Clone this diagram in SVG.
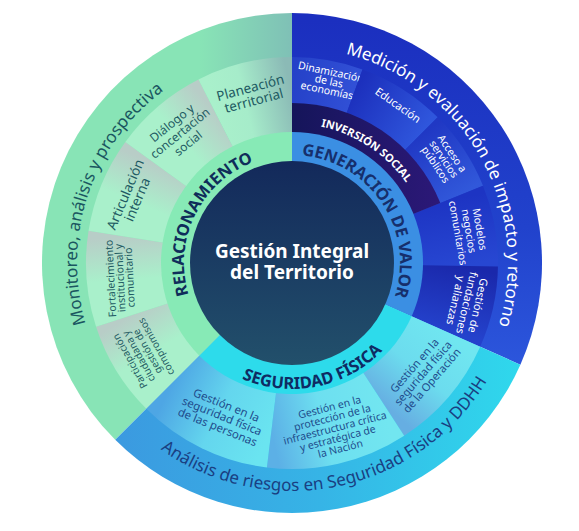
<svg xmlns="http://www.w3.org/2000/svg" width="579" height="531" viewBox="0 0 579 531">
<style>
text { font-family: "Noto Sans", "Open Sans", sans-serif; }
.o { font-size: 17px; }
.m { font-size: 16.5px; font-weight: 700; }
.it { text-anchor: middle; }
.gt { fill: #1e5a62; }
.wt { fill: #ffffff; }
.ct { fill: #1f4c8c; }
</style>
<defs>
  <linearGradient id="gOutGreen" gradientUnits="userSpaceOnUse" x1="200" y1="0" x2="292" y2="0">
    <stop offset="0" stop-color="#88e4b6"/><stop offset="1" stop-color="#7fc0b6"/>
  </linearGradient>
  <linearGradient id="gOutBlue" gradientUnits="userSpaceOnUse" x1="0" y1="20" x2="0" y2="365">
    <stop offset="0" stop-color="#1b2fbf"/><stop offset="0.6" stop-color="#2142cc"/><stop offset="1" stop-color="#2c56dc"/>
  </linearGradient>
  <linearGradient id="gOutCyan" gradientUnits="userSpaceOnUse" x1="120" y1="0" x2="520" y2="0">
    <stop offset="0" stop-color="#3b9ae0"/><stop offset="0.5" stop-color="#36b4e6"/><stop offset="1" stop-color="#2fd8ec"/>
  </linearGradient>
  <linearGradient id="gP" gradientUnits="userSpaceOnUse" x1="171.8" y1="383.2" x2="130.3" y2="315.5">
    <stop offset="0" stop-color="#a9f0cb"/><stop offset="0.45" stop-color="#a9f0cb"/><stop offset="1" stop-color="#b8cdc7"/>
  </linearGradient>
  <linearGradient id="gF" gradientUnits="userSpaceOnUse" x1="130.3" y1="315.5" x2="124.1" y2="236.4">
    <stop offset="0" stop-color="#a9f0cb"/><stop offset="0.45" stop-color="#a9f0cb"/><stop offset="1" stop-color="#b8cdc7"/>
  </linearGradient>
  <linearGradient id="gA" gradientUnits="userSpaceOnUse" x1="124.1" y1="236.4" x2="154.5" y2="163.1">
    <stop offset="0" stop-color="#a9f0cb"/><stop offset="0.45" stop-color="#a9f0cb"/><stop offset="1" stop-color="#b8cdc7"/>
  </linearGradient>
  <linearGradient id="gD" gradientUnits="userSpaceOnUse" x1="154.5" y1="163.1" x2="214.8" y2="111.5">
    <stop offset="0" stop-color="#a9f0cb"/><stop offset="0.45" stop-color="#a9f0cb"/><stop offset="1" stop-color="#b8cdc7"/>
  </linearGradient>
  <linearGradient id="gPl" gradientUnits="userSpaceOnUse" x1="214.8" y1="111.5" x2="292" y2="93">
    <stop offset="0" stop-color="#a9f0cb"/><stop offset="0.4" stop-color="#a6ecca"/><stop offset="1" stop-color="#8bbab6"/>
  </linearGradient>
  <linearGradient id="gDin" gradientUnits="userSpaceOnUse" x1="292" y1="80" x2="354.6" y2="91">
    <stop offset="0" stop-color="#2541c8"/><stop offset="1" stop-color="#3150d6"/>
  </linearGradient>
  <linearGradient id="gEdu" gradientUnits="userSpaceOnUse" x1="354.6" y1="91" x2="421.4" y2="133.6">
    <stop offset="0" stop-color="#1c30bd"/><stop offset="1" stop-color="#2f56dc"/>
  </linearGradient>
  <linearGradient id="gAcc" gradientUnits="userSpaceOnUse" x1="421.4" y1="133.6" x2="461.7" y2="194.5">
    <stop offset="0" stop-color="#2038c4"/><stop offset="1" stop-color="#3158da"/>
  </linearGradient>
  <linearGradient id="gMod" gradientUnits="userSpaceOnUse" x1="449.6" y1="199.3" x2="462" y2="266">
    <stop offset="0" stop-color="#1d34c3"/><stop offset="1" stop-color="#2747d2"/>
  </linearGradient>
  <linearGradient id="gFun" gradientUnits="userSpaceOnUse" x1="462" y1="266" x2="447.3" y2="332.2">
    <stop offset="0" stop-color="#1a28ab"/><stop offset="1" stop-color="#2442cc"/>
  </linearGradient>
  <linearGradient id="gOp" gradientUnits="userSpaceOnUse" x1="447.3" y1="332.2" x2="384.6" y2="405.6">
    <stop offset="0" stop-color="#70e6f0"/><stop offset="0.5" stop-color="#6cdcee"/><stop offset="1" stop-color="#66aee2"/>
  </linearGradient>
  <linearGradient id="gPr" gradientUnits="userSpaceOnUse" x1="384.6" y1="405.6" x2="271.3" y2="431.7">
    <stop offset="0" stop-color="#72e6f0"/><stop offset="0.55" stop-color="#6ddff0"/><stop offset="1" stop-color="#5cb0e6"/>
  </linearGradient>
  <linearGradient id="gPe" gradientUnits="userSpaceOnUse" x1="271.3" y1="431.7" x2="171.8" y2="383.2">
    <stop offset="0" stop-color="#6ae4f0"/><stop offset="0.5" stop-color="#64d6ee"/><stop offset="1" stop-color="#4ea6e4"/>
  </linearGradient>
  <linearGradient id="gInv" gradientUnits="userSpaceOnUse" x1="292" y1="0" x2="440" y2="0">
    <stop offset="0" stop-color="#15155a"/><stop offset="1" stop-color="#2c1878"/>
  </linearGradient>
  <linearGradient id="gCore" x1="0" y1="0" x2="0" y2="1">
    <stop offset="0" stop-color="#13295b"/><stop offset="1" stop-color="#22506b"/>
  </linearGradient>
  <path id="pMon" d="M108.68,375.34 A215,215 0 0 1 213.20,62.96"/>
  <path id="pMed" d="M331.73,50.69 A216,216 0 0 1 494.19,339.0"/>
  <path id="pAna" d="M151.0,442.18 A228,228 0 0 0 492.94,370.74"/>
  <path id="pRel" d="M193.26,306.76 A108,108 0 0 1 266.06,158.16"/>
  <path id="pGen" d="M304.23,155.69 A108,108 0 0 1 395.55,293.67"/>
  <path id="pSeg" d="M213.13,361.26 A126,126 0 0 0 402.47,323.60"/>
  <path id="pInv" d="M252.0,128.84 A141,141 0 0 1 431.07,246.91"/>
</defs>

<!-- outer ring -->
<g id="monitoreo">
  <path d="M292,263 L115.22,439.78 A250,250 0 0 1 292,13 Z" fill="url(#gOutGreen)"/>
  <text class="o" fill="#1a5660"><textPath href="#pMon" startOffset="50%" text-anchor="middle">Monitoreo, análisis y prospectiva</textPath></text>
</g>
<g id="medicion">
  <path d="M292,263 L292,13 A250,250 0 0 1 520.39,364.69 Z" fill="url(#gOutBlue)"/>
  <text class="o" fill="#ffffff"><textPath href="#pMed" startOffset="50%" text-anchor="middle">Medición y evaluación de impacto y retorno</textPath></text>
</g>
<g id="analisis">
  <path d="M292,263 L520.39,364.69 A250,250 0 0 1 115.22,439.78 Z" fill="url(#gOutCyan)"/>
  <text class="o" fill="#1a3f82"><textPath href="#pAna" startOffset="50%" text-anchor="middle">Análisis de riesgos en Seguridad Física y DDHH</textPath></text>
</g>

<!-- items: green -->
<g id="participacion">
  <path d="M292,263 L146.34,408.66 A206,206 0 0 1 96.08,326.66 Z" fill="url(#gP)"/>
  <text class="it gt" font-size="10" transform="translate(143,354) rotate(-119)">
    <tspan x="0" y="-11.4">Participación</tspan><tspan x="0" y="-1.4">ciudadana y</tspan><tspan x="0" y="8.6">gestión de</tspan><tspan x="0" y="18.6">compromisos</tspan>
  </text>
</g>
<g id="fortalecimiento">
  <path d="M292,263 L96.08,326.66 A206,206 0 0 1 88.54,230.78 Z" fill="url(#gF)"/>
  <text class="it gt" font-size="10.5" transform="translate(120,278) rotate(-93)">
    <tspan x="0" y="-5.7">Fortalecimiento</tspan><tspan x="0" y="3.8">institucional y</tspan><tspan x="0" y="13.3">comunitario</tspan>
  </text>
</g>
<g id="articulacion">
  <path d="M292,263 L88.54,230.78 A206,206 0 0 1 125.34,141.92 Z" fill="url(#gA)"/>
  <text class="it gt" font-size="13.5" transform="translate(131,197) rotate(-67)">
    <tspan x="0" y="-1.6">Articulación</tspan><tspan x="0" y="11.4">interna</tspan>
  </text>
</g>
<g id="dialogo">
  <path d="M292,263 L125.34,141.92 A206,206 0 0 1 198.48,79.45 Z" fill="url(#gD)"/>
  <text class="it gt" font-size="12" transform="translate(180,133) rotate(-39)">
    <tspan x="0" y="-8.7">Diálogo y</tspan><tspan x="0" y="4.3">concertación</tspan><tspan x="0" y="17.3">social</tspan>
  </text>
</g>
<g id="planeacion">
  <path d="M292,263 L198.48,79.45 A206,206 0 0 1 292,57 Z" fill="url(#gPl)"/>
  <text class="it gt" font-size="13.5" transform="translate(252,94) rotate(-15)">
    <tspan x="0" y="-1.9">Planeación</tspan><tspan x="0" y="11.6">territorial</tspan>
  </text>
</g>

<!-- items: blue -->
<g id="dinamizacion">
  <path d="M292,263 L292,57 A206,206 0 0 1 362.46,69.42 Z" fill="url(#gDin)"/>
  <text class="it wt" font-size="10.5" transform="translate(329,81) rotate(12)">
    <tspan x="0" y="-5.7">Dinamización</tspan><tspan x="0" y="3.8">de las</tspan><tspan x="0" y="13.3">economías</tspan>
  </text>
</g>
<g id="educacion">
  <path d="M292,263 L362.46,69.42 A206,206 0 0 1 437.66,117.34 Z" fill="url(#gEdu)"/>
  <text class="it wt" font-size="11" transform="translate(398,105) rotate(35)"><tspan x="0" y="4">Educación</tspan></text>
</g>
<g id="acceso">
  <path d="M292,263 L437.66,117.34 A206,206 0 0 1 483.0,185.83 Z" fill="url(#gAcc)"/>
  <text class="it wt" font-size="10.5" transform="translate(444,159) rotate(56)">
    <tspan x="0" y="-6.2">Acceso a</tspan><tspan x="0" y="3.8">servicios</tspan><tspan x="0" y="13.8">públicos</tspan>
  </text>
</g>
<g id="modelos">
  <path d="M292,263 L483.0,185.83 A206,206 0 0 1 497.97,266.59 Z" fill="url(#gMod)"/>
  <text class="it wt" font-size="10.5" transform="translate(469,231) rotate(80)">
    <tspan x="0" y="-7.2">Modelos</tspan><tspan x="0" y="3.8">negocios</tspan><tspan x="0" y="14.8">comunitarios</tspan>
  </text>
</g>
<g id="fundaciones">
  <path d="M292,263 L497.97,266.59 A206,206 0 0 1 480.19,346.79 Z" fill="url(#gFun)"/>
  <text class="it wt" font-size="11" transform="translate(467,303) rotate(103)">
    <tspan x="0" y="-7.5">Gestión de</tspan><tspan x="0" y="4">fundaciones</tspan><tspan x="0" y="15.5">y alianzas</tspan>
  </text>
</g>

<!-- items: cyan -->
<g id="operacion">
  <path d="M292,263 L480.19,346.79 A206,206 0 0 1 404.2,435.77 Z" fill="url(#gOp)"/>
  <text class="it ct" font-size="11" transform="translate(423,373) rotate(-49)">
    <tspan x="0" y="-7.5">Gestión en la</tspan><tspan x="0" y="4">seguridad física</tspan><tspan x="0" y="15.5">de la Operación</tspan>
  </text>
</g>
<g id="proteccion">
  <path d="M292,263 L404.2,435.77 A206,206 0 0 1 266.89,467.47 Z" fill="url(#gPr)"/>
  <text class="it ct" font-size="10.5" transform="translate(335,428) rotate(-14.5)">
    <tspan x="0" y="-17.8">Gestión en la</tspan><tspan x="0" y="-7.1">protección de la</tspan><tspan x="0" y="3.6">infraestructura crítica</tspan><tspan x="0" y="14.3">y estratégica de</tspan><tspan x="0" y="25">la Nación</tspan>
  </text>
</g>
<g id="personas">
  <path d="M292,263 L266.89,467.47 A206,206 0 0 1 146.34,408.66 Z" fill="url(#gPe)"/>
  <text class="it ct" font-size="11.5" transform="translate(222,416) rotate(22)">
    <tspan x="0" y="-7.7">Gestión en la</tspan><tspan x="0" y="4.1">seguridad física</tspan><tspan x="0" y="15.9">de las personas</tspan>
  </text>
</g>

<!-- inversion social band -->
<g id="inversion-social">
  <path d="M292,263 L292,103 A160,160 0 0 1 440.35,203.06 Z" fill="url(#gInv)"/>
  <text font-size="11" font-weight="700" fill="#ffffff"><textPath href="#pInv" startOffset="50%" text-anchor="middle">INVERSIÓN SOCIAL</textPath></text>
</g>

<!-- main ring -->
<g id="relacionamiento">
  <path d="M292,263 L199.37,355.63 A131,131 0 0 1 292,132 Z" fill="#87eab6"/>
  <text class="m" fill="#0f2d5a"><textPath href="#pRel" startOffset="50%" text-anchor="middle">RELACIONAMIENTO</textPath></text>
</g>
<g id="generacion-valor">
  <path d="M292,263 L292,132 A131,131 0 0 1 411.68,316.28 Z" fill="#3b8fe3"/>
  <text class="m" fill="#162f6c"><textPath href="#pGen" startOffset="50%" text-anchor="middle">GENERACIÓN DE VALOR</textPath></text>
</g>
<g id="seguridad-fisica">
  <path d="M292,263 L411.68,316.28 A131,131 0 0 1 199.37,355.63 Z" fill="#2ddbeb"/>
  <text class="m" fill="#0f2b63"><textPath href="#pSeg" startOffset="50%" text-anchor="middle">SEGURIDAD FÍSICA</textPath></text>
</g>

<!-- core -->
<g id="core">
  <circle cx="292" cy="263" r="102" fill="url(#gCore)"/>
  <text x="292" y="258" font-size="19" font-weight="700" fill="#ffffff" text-anchor="middle">Gestión Integral</text>
  <text x="292" y="279" font-size="19" font-weight="700" fill="#ffffff" text-anchor="middle">del Territorio</text>
</g>
</svg>
